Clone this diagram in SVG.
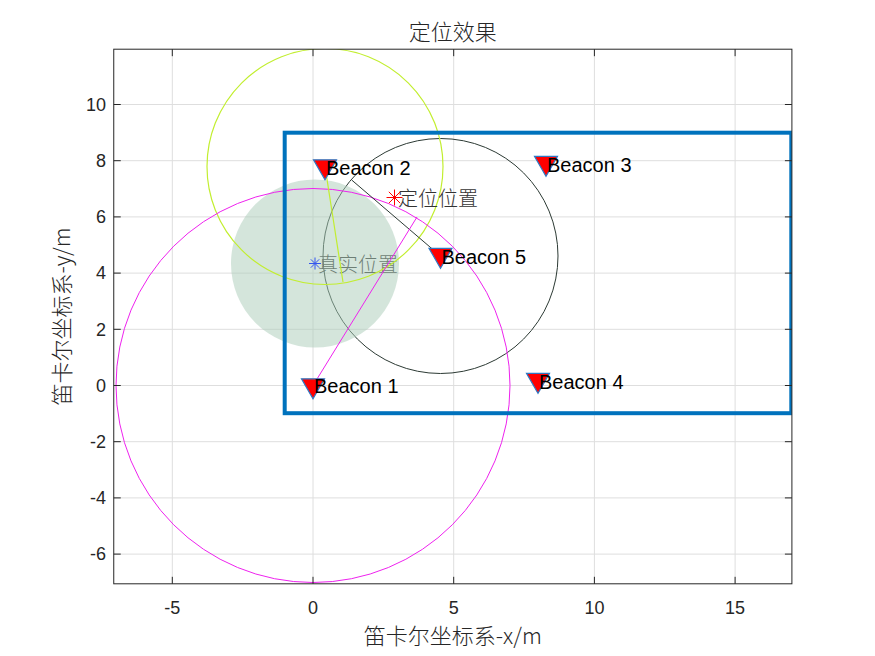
<svg xmlns="http://www.w3.org/2000/svg" width="875" height="656" viewBox="0 0 875 656">
<style>
.grid{stroke:#dedede;stroke-width:1;fill:none}
.tick{stroke:#262626;stroke-width:1}
.tl{font-family:"Liberation Sans",Arial,sans-serif;font-size:18px;fill:#262626}
.cjk{font-family:"Noto Sans CJK SC","Liberation Sans",sans-serif;font-weight:300}
.bt{font-family:"Liberation Sans",Arial,sans-serif;font-size:20px;fill:#000}
.bcn{fill:#ff0000;stroke:#2f78c4;stroke-width:1.2}
</style>
<defs>
<clipPath id="ax"><rect x="113.75" y="49.2" width="678.15" height="534.6"/></clipPath>
<path id="tri" d="M-11.5,-6.7 L11.5,-6.7 L0,13.3 Z"/>
</defs>
<rect width="875" height="656" fill="#ffffff"/>
<rect x="113.75" y="49.2" width="678.15" height="534.6" fill="#ffffff"/>
<g id="grid" class="grid">
<path d="M172.3,49.2V583.8M313,49.2V583.8M453.7,49.2V583.8M594.4,49.2V583.8M735.1,49.2V583.8"/>
<path d="M113.75,104.5H791.9M113.75,160.7H791.9M113.75,216.9H791.9M113.75,273.1H791.9M113.75,329.3H791.9M113.75,385.5H791.9M113.75,441.7H791.9M113.75,497.9H791.9M113.75,554.1H791.9"/>
</g>
<g id="plot" clip-path="url(#ax)">
<circle id="circle5" cx="440.5" cy="256" r="117.5" fill="none" stroke="#2c3a34" stroke-width="1"/>
<text id="true-label" class="cjk" x="318" y="272" font-size="20" fill="#333">真实位置</text>
<circle id="true-area" cx="315" cy="263.5" r="84" fill="#aacbb8" fill-opacity="0.5"/>
<circle id="circle2" cx="325" cy="166.5" r="118" fill="none" stroke="#c2ee30" stroke-width="1.2"/>
<circle id="circle1" cx="313" cy="385.5" r="197" fill="none" stroke="#ee22ee" stroke-width="1"/>
<rect id="area" x="284.7" y="132.7" width="506.6" height="280.5" fill="none" stroke="#0072bd" stroke-width="4"/>
</g>
<g id="connectors">
<line x1="440.5" y1="256" x2="351.7" y2="180" stroke="#2c3a34" stroke-width="1"/>
<line x1="313" y1="385.5" x2="417" y2="217" stroke="#ee22ee" stroke-width="1"/>
<line x1="325" y1="166.5" x2="343" y2="282" stroke="#c2ee30" stroke-width="1.2"/>
</g>
<g id="beacon1"><use href="#tri" class="bcn" transform="translate(313,385.5)"/><text class="bt" x="314" y="393">Beacon 1</text></g>
<g id="beacon2"><use href="#tri" class="bcn" transform="translate(325,166.5)"/><text class="bt" x="326" y="175">Beacon 2</text></g>
<g id="beacon3"><use href="#tri" class="bcn" transform="translate(546,163)"/><text class="bt" x="547" y="171.5">Beacon 3</text></g>
<g id="beacon4"><use href="#tri" class="bcn" transform="translate(538,380)"/><text class="bt" x="539" y="388.5">Beacon 4</text></g>
<g id="beacon5"><use href="#tri" class="bcn" transform="translate(440.5,255)"/><text class="bt" x="441.5" y="263.5">Beacon 5</text></g>
<g id="true-pos" stroke="#3355ee" stroke-width="1"><path d="M315,257.5V269.5M309,263.5H321M310.8,259.3L319.2,267.7M310.8,267.7L319.2,259.3"/></g>
<g id="est-pos">
<path d="M394.5,189.5V205.5M386.5,197.5H402.5M388.8,191.8L400.2,203.2M388.8,203.2L400.2,191.8" stroke="#ff0000" stroke-width="1"/>
<text class="cjk" x="398" y="206" font-size="20" fill="#333">定位位置</text>
</g>
<g id="axes">
<rect x="113.75" y="49.2" width="678.15" height="534.6" fill="none" stroke="#262626" stroke-width="1"/>
<path class="tick" d="M172.3,583.8v-7M313,583.8v-7M453.7,583.8v-7M594.4,583.8v-7M735.1,583.8v-7M172.3,49.2v7M313,49.2v7M453.7,49.2v7M594.4,49.2v7M735.1,49.2v7"/>
<path class="tick" d="M113.75,104.5h7M113.75,160.7h7M113.75,216.9h7M113.75,273.1h7M113.75,329.3h7M113.75,385.5h7M113.75,441.7h7M113.75,497.9h7M113.75,554.1h7M791.9,104.5h-7M791.9,160.7h-7M791.9,216.9h-7M791.9,273.1h-7M791.9,329.3h-7M791.9,385.5h-7M791.9,441.7h-7M791.9,497.9h-7M791.9,554.1h-7"/>
<g class="tl" text-anchor="middle">
<text x="172.3" y="614">-5</text><text x="313" y="614">0</text><text x="453.7" y="614">5</text><text x="594.4" y="614">10</text><text x="735.1" y="614">15</text>
</g>
<g class="tl" text-anchor="end">
<text x="106" y="111">10</text><text x="106" y="167">8</text><text x="106" y="223.2">6</text><text x="106" y="279.4">4</text><text x="106" y="335.6">2</text><text x="106" y="391.8">0</text><text x="106" y="448">-2</text><text x="106" y="504.2">-4</text><text x="106" y="560.4">-6</text>
</g>
<text class="cjk" x="452.8" y="40" font-size="22" fill="#262626" text-anchor="middle">定位效果</text>
<text class="cjk" x="452.8" y="644" font-size="22" fill="#262626" text-anchor="middle">笛卡尔坐标系-x/m</text>
<text class="cjk" transform="translate(70,316.5) rotate(-90)" font-size="22" fill="#262626" text-anchor="middle">笛卡尔坐标系-y/m</text>
</g>
</svg>
